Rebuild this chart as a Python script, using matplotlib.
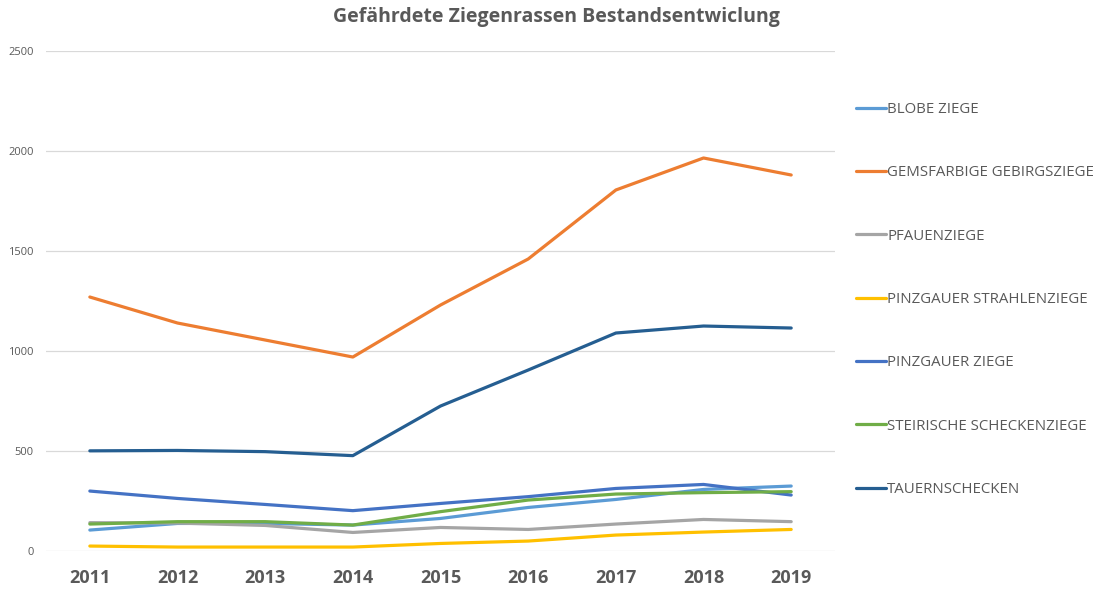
import matplotlib.pyplot as plt
import numpy as np

plt.rcParams["font.family"] = ["Open Sans", "DejaVu Sans"]

years = ["2011", "2012", "2013", "2014", "2015", "2016", "2017", "2018", "2019"]

blobe_ziege =     [105, 138, 138, 130, 163, 218, 258, 308, 325]
gemsfarbige =     [1270, 1140, 1055, 970, 1230, 1460, 1805, 1965, 1880]
pfauenziege =     [142, 140, 128, 93, 118, 108, 135, 158, 147]
pinzg_strahlen =  [25, 20, 20, 20, 38, 50, 80, 95, 108]
pinzgauer_ziege = [300, 263, 233, 202, 238, 272, 313, 333, 280]
steirische =      [135, 147, 147, 130, 197, 255, 285, 292, 297]
tauernschecken =  [501, 503, 497, 477, 725, 905, 1090, 1125, 1115]

series = [
    ("BLOBE ZIEGE", blobe_ziege, "#5B9BD5"),
    ("GEMSFARBIGE GEBIRGSZIEGE", gemsfarbige, "#ED7D31"),
    ("PFAUENZIEGE", pfauenziege, "#A5A5A5"),
    ("PINZGAUER STRAHLENZIEGE", pinzg_strahlen, "#FFC000"),
    ("PINZGAUER ZIEGE", pinzgauer_ziege, "#4472C4"),
    ("STEIRISCHE SCHECKENZIEGE", steirische, "#70AD47"),
    ("TAUERNSCHECKEN", tauernschecken, "#255E91"),
]

text_col = "#595959"

fig = plt.figure(figsize=(11.06, 5.9), dpi=100)
ax = fig.add_axes([0.0416, 0.066, 0.7134, 0.8476])

x = np.arange(len(years))
for name, vals, col in series:
    ax.plot(x, vals, color=col, linewidth=2.3, label=name, solid_capstyle="round")

ax.set_xlim(-0.5, len(years) - 0.5)
ax.set_ylim(0, 2500)
ax.set_yticks(np.arange(0, 2501, 500))
ax.grid(axis="y", color="#D9D9D9", linewidth=0.9)
ax.set_axisbelow(True)
for s in ax.spines.values():
    s.set_visible(False)
ax.tick_params(length=0)
ax.tick_params(axis="y", labelsize=8, labelcolor=text_col, pad=9)
ax.set_xticks(x)
ax.set_xticklabels(years, fontsize=13, fontweight="bold", color=text_col)
ax.tick_params(axis="x", pad=13)

fig.suptitle("Gefährdete Ziegenrassen Bestandsentwiclung", x=0.503, y=0.988,
             fontsize=14, fontweight="bold", color=text_col)

fig.legend(loc="upper left", bbox_to_anchor=(0.7615, 0.85), frameon=False,
           fontsize=10.8, labelcolor=text_col, handlelength=2.0, handletextpad=0.1,
           labelspacing=3.22)

fig.savefig("out.png", dpi=100)
